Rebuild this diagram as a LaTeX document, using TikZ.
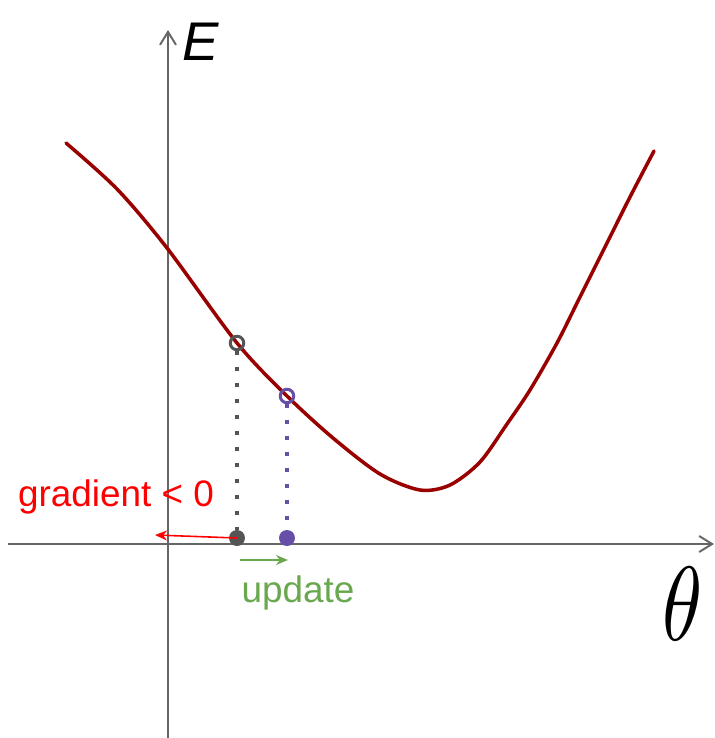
\documentclass[tikz,border=0pt]{standalone}
\usepackage{fontspec}
\setmainfont{Liberation Sans}
\usepackage{tikz}
\usetikzlibrary{arrows.meta}

\definecolor{curvered}{HTML}{990000}
\definecolor{axisgray}{HTML}{666666}
\definecolor{dotgray}{HTML}{555555}
\definecolor{dotpurple}{HTML}{674EA7}
\definecolor{updgreen}{HTML}{6AA84F}

\begin{document}
\begin{tikzpicture}[
  x=0.02cm, y=-0.02cm,
  axis/.style={draw=axisgray, line width=1.1pt, -{Straight Barb[length=2.6mm,width=3.2mm]}},
  fulldot/.style={circle, fill=#1, minimum size=3.2mm, inner sep=0pt},
  opendot/.style={circle, draw=#1, line width=1.7pt, minimum size=2.7mm, inner sep=0pt},
  dropline/.style={draw=#1, line width=2.2pt, dash pattern=on 2.2pt off 6.9pt},
  lbl/.style={font=\fontsize{21}{25}\selectfont, inner sep=0pt}
]
  \useasboundingbox (0,0) rectangle (715,738);
  % axes
  \coordinate (xstart) at (8,544);
  \coordinate (xend) at (714,544);
  \coordinate (ystart) at (168,738);
  \coordinate (yend) at (168,30);
  \draw[axis] (xstart) -- (xend);
  \draw[axis] (ystart) -- (yend);
  \node[font=\fontsize{31}{35}\selectfont\itshape, inner sep=0pt] (elabel) at (201,42) {E};
  \node[inner sep=0pt] (thlabel) at (683,604) {\scalebox{4.6}[6]{$\theta$}};
  % error curve
  \draw[curvered, line width=2pt, line cap=round] plot[smooth, tension=0.5] coordinates {
    (66,143) (117,189) (167,248) (237,343) (287,396) (333,438) (380,474)
    (420,490) (450,485) (480,462) (507,424) (530,390) (557,343) (580,297)
    (607,243) (630,197) (654,151)};
  % old and new parameter
  \node[fulldot=dotgray] (oldpt) at (237,538) {};
  \node[fulldot=dotpurple] (newpt) at (287,538) {};
  \node[opendot=dotgray] (oldon) at (237,343) {};
  \node[opendot=dotpurple] (newon) at (287,396) {};
  \draw[dropline=dotgray] (oldon) -- (oldpt);
  \draw[dropline=dotpurple] (newon) -- (newpt);
  % gradient and update
  \coordinate (gradtip) at (155,535);
  \draw[red, line width=0.9pt, -{Stealth[length=2.4mm,width=2mm]}] (oldpt.center) -- (gradtip);
  \node[lbl, text=red] (gradlabel) at (116,497) {gradient < 0};
  \coordinate (updstart) at (240,560);
  \coordinate (updend) at (288,560);
  \draw[updgreen, line width=0.9pt, -{Stealth[length=2.4mm,width=2mm]}] (updstart) -- (updend);
  \node[lbl, text=updgreen] (updlabel) at (298,593) {update};
\end{tikzpicture}
\end{document}
